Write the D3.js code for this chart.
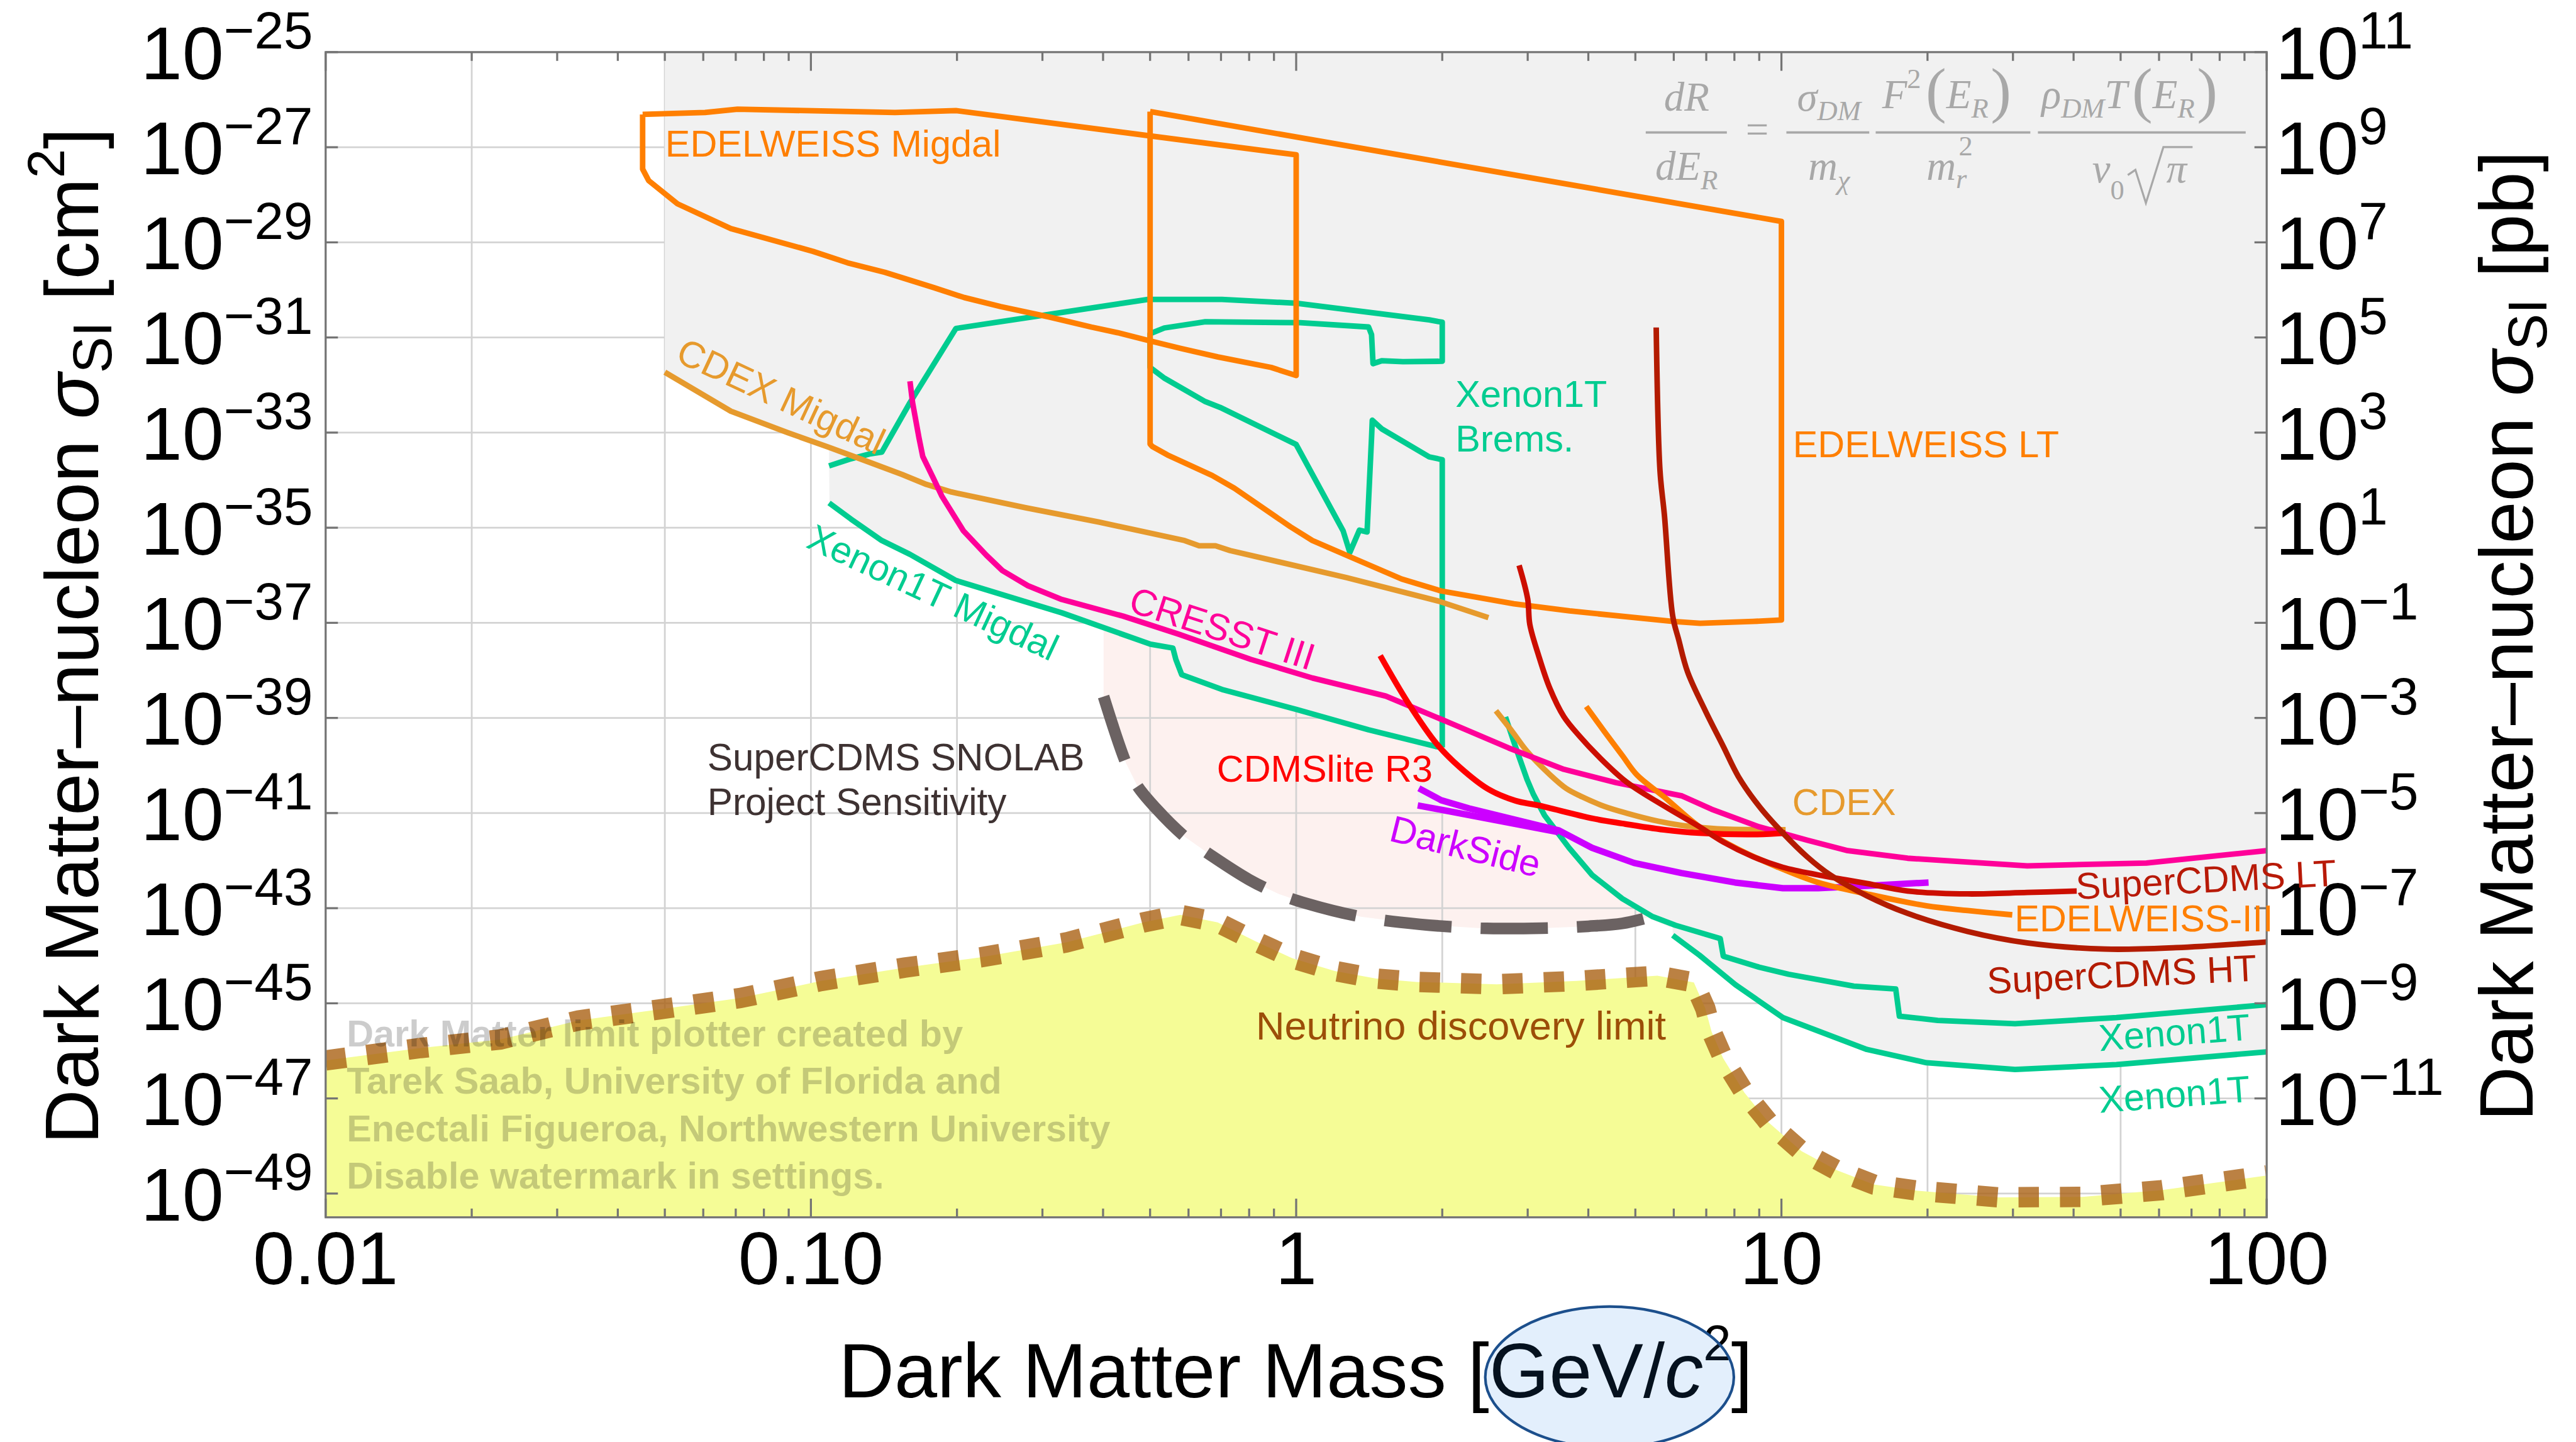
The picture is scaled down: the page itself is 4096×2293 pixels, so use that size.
<!DOCTYPE html>
<html>
<head>
<meta charset="utf-8">
<title>Dark matter – nucleon spin-independent limits</title>
<script src="https://cdn.jsdelivr.net/npm/d3@7"></script>
<style>
  html, body { margin: 0; padding: 0; background: #ffffff; overflow: hidden; }
  svg { display: block; }
</style>
</head>
<body>
<svg id="chart" width="4096" height="2293" viewBox="0 0 4414 2471"></svg>
<script>
// ---------------------------------------------------------------------------
// Data: every curve is a list of [mass in GeV/c^2, log10(sigma_SI / cm^2)]
// ---------------------------------------------------------------------------
const edelweissMigdal = [
  [0.0450,-26.31],[0.0605,-26.27],[0.0706,-26.20],[0.149,-26.27],[0.199,-26.23],
  [1.0,-27.16],[1.0,-31.80],[0.888,-31.63],[0.690,-31.41],[0.578,-31.23],[0.495,-31.06],
  [0.429,-30.90],[0.378,-30.78],[0.310,-30.57],[0.246,-30.35],[0.207,-30.16],[0.179,-29.95],
  [0.142,-29.63],[0.119,-29.43],[0.101,-29.19],[0.0684,-28.71],[0.0531,-28.19],
  [0.0463,-27.70],[0.0450,-27.46]
];
const edelweissLT = [
  [0.5,-26.25],[10,-28.56],[10,-36.94],[8.75,-36.97],[6.8,-37.01],[5.97,-36.97],
  [3.66,-36.75],[2.81,-36.60],[1.99,-36.33],[1.65,-36.08],[1.27,-35.58],[1.08,-35.27],
  [0.973,-34.98],[0.746,-34.17],[0.671,-33.90],[0.543,-33.47],[0.505,-33.29],[0.5,-33.24]
];
const cdexMigdal = [
  [0.050,-31.73],[0.0684,-32.55],[0.0895,-33.00],[0.109,-33.31],[0.127,-33.56],
  [0.154,-33.88],[0.173,-34.09],[0.195,-34.25],[0.277,-34.58],[0.392,-34.88],
  [0.589,-35.27],[0.631,-35.38],[0.682,-35.38],[0.731,-35.48],[1.27,-36.05],
  [1.96,-36.54],[2.49,-36.89]
];
const xenonBrems = [
  [0.109,-33.70],[0.120,-33.56],[0.132,-33.45],[0.140,-33.41],[0.160,-32.37],
  [0.199,-30.81],[0.495,-30.20],[0.703,-30.20],[1.0,-30.28],[1.88,-30.63],[2.0,-30.68],
  [2.0,-31.50],[1.66,-31.51],[1.50,-31.49],[1.44,-31.55],[1.43,-30.94],[1.41,-30.78],
  [1.02,-30.69],[0.65,-30.67],[0.535,-30.80],[0.5,-30.92],[0.5,-31.63],[0.536,-31.86],
  [0.65,-32.35],[0.697,-32.47],[1.0,-33.25],[1.25,-35.07],[1.29,-35.52],[1.35,-35.05],
  [1.40,-35.09],[1.43,-33.11],[1.435,-32.74],[1.50,-32.92],[1.88,-33.51],[2.0,-33.57],
  [2.0,-39.62]
];
const xenonMigdal = [
  [0.109,-34.48],[0.121,-34.82],[0.140,-35.27],[0.160,-35.56],[0.199,-36.11],
  [0.329,-36.79],[0.501,-37.45],[0.557,-37.53],[0.565,-37.77],[0.581,-38.09],
  [0.708,-38.41],[1.0,-38.82],[1.41,-39.25],[1.94,-39.60],[2.0,-39.62]
];
const cresst = [
  [0.160,-31.92],[0.162,-32.37],[0.167,-33.11],[0.170,-33.50],[0.179,-33.97],
  [0.186,-34.33],[0.206,-35.06],[0.230,-35.58],[0.248,-35.90],[0.280,-36.22],
  [0.329,-36.51],[0.440,-36.86],[0.573,-37.24],[0.807,-37.77],[1.08,-38.16],
  [1.53,-38.54],[2.07,-39.10],[2.74,-39.63],[3.56,-40.08],[4.56,-40.36],[6.24,-40.64],
  [7.18,-40.92],[9.0,-41.29],[11.3,-41.57],[13.7,-41.79],[18.2,-41.95],[32.1,-42.11],
  [56.5,-42.05],[100,-41.79]
];
const cdmslite = [
  [1.49,-37.69],[1.70,-38.68],[1.95,-39.55],[2.17,-40.03],[2.49,-40.50],[2.83,-40.74],
  [3.16,-40.84],[4.07,-41.11],[4.70,-41.22],[5.72,-41.35],[6.78,-41.42],[8.75,-41.45],
  [10.2,-41.42]
];
const darksideUpper = [
  [1.79,-40.48],[1.99,-40.73],[2.27,-40.90],[3.47,-41.36],[4.07,-41.73],[4.97,-42.05],
  [6.22,-42.26],[8.02,-42.46],[10.07,-42.58],[11.9,-42.58],[15.0,-42.53],[20.1,-42.46]
];
const darksideLower = [[1.78,-40.84],[1.99,-40.93],[3.47,-41.40]];
const cdex = [
  [2.58,-38.85],[2.79,-39.29],[2.99,-39.70],[3.34,-40.20],[3.60,-40.48],[3.85,-40.64],
  [4.32,-40.86],[4.83,-41.01],[5.57,-41.17],[6.24,-41.26],[7.38,-41.33],[10.2,-41.35]
];
const edelweissIII = [
  [3.96,-38.76],[4.32,-39.29],[4.70,-39.79],[5.04,-40.20],[5.73,-40.66],[6.78,-41.29],
  [8.04,-41.73],[9.79,-42.13],[11.9,-42.46],[15.0,-42.70],[19.9,-42.95],[24.2,-43.05],
  [29.9,-43.14]
];
const supercdmsLT = [
  [2.88,-35.79],[3.00,-36.50],[3.03,-37.03],[3.16,-37.69],[3.33,-38.37],[3.56,-38.97],
  [3.85,-39.40],[4.19,-39.80],[4.80,-40.35],[5.73,-40.85],[6.78,-41.29],[7.59,-41.61],
  [8.75,-41.92],[10.07,-42.14],[11.9,-42.30],[15.0,-42.48],[18.2,-42.64],[24.2,-42.70],
  [32.1,-42.67],[40.6,-42.64]
];
const supercdmsHT = [
  [5.52,-30.79],[5.62,-33.80],[5.74,-34.74],[5.97,-36.86],[6.14,-37.35],[6.41,-38.04],
  [6.97,-38.85],[7.59,-39.60],[8.15,-40.23],[9.0,-40.86],[10.07,-41.42],[11.3,-41.92],
  [12.6,-42.30],[15.0,-42.74],[18.2,-43.11],[24.2,-43.49],[32.1,-43.73],[46.4,-43.86],
  [65.0,-43.83],[100,-43.71]
];
const xenonUpper = [
  [2.70,-38.98],[2.83,-39.60],[2.99,-40.29],[3.08,-40.60],[3.25,-41.05],[3.65,-41.73],
  [4.07,-42.30],[4.70,-42.80],[5.41,-43.17],[6.05,-43.36],[7.48,-43.64],[7.59,-44.01],
  [9.0,-44.24],[10.35,-44.39],[14.1,-44.64],[17.2,-44.70],[17.5,-45.27],[21.0,-45.36],
  [30.3,-45.43],[49.0,-45.30],[100,-45.03]
];
const xenonLower = [
  [5.97,-43.57],[6.78,-43.99],[8.04,-44.61],[10.07,-45.30],[15.0,-45.97],[19.9,-46.25],
  [30.3,-46.39],[49.0,-46.29],[100,-46.02]
];
const snolabProjection = [
  [0.401,-38.55],[0.446,-39.95],[0.470,-40.42],[0.514,-40.90],[0.59,-41.50],[0.67,-41.90],
  [0.80,-42.40],[0.92,-42.70],[1.05,-42.90],[1.36,-43.18],[1.8,-43.34],[2.4,-43.42],
  [3.2,-43.42],[4.0,-43.38],[4.7,-43.32],[5.3,-43.20]
];
const snolabRegionEdge = [[5.9,-43.40],[5.9,-25.0]];
const neutrinoLimit = [
  [0.0100,-46.20],[0.0157,-45.94],[0.0229,-45.76],[0.0332,-45.36],[0.0486,-45.13],
  [0.0714,-44.89],[0.105,-44.53],[0.156,-44.25],[0.225,-44.03],[0.336,-43.72],
  [0.484,-43.30],[0.577,-43.14],[0.689,-43.30],[0.822,-43.69],[0.98,-44.05],[1.20,-44.32],
  [1.46,-44.48],[1.77,-44.55],[2.59,-44.60],[3.79,-44.53],[5.55,-44.42],[6.60,-44.56],
  [6.97,-45.11],[7.18,-45.60],[7.58,-46.15],[8.39,-46.88],[9.42,-47.51],[11.0,-48.11],
  [13.0,-48.51],[15.5,-48.81],[19.1,-48.94],[28.0,-49.08],[41.7,-49.07],[60.7,-48.93],
  [90.8,-48.68],[100,-48.62]
];

// Axes
const massTicks = [0.01, 0.1, 1, 10, 100];
const massTickLabels = ["0.01", "0.10", "1", "10", "100"];
const massGrid = [0.02, 0.05, 0.1, 0.2, 0.5, 1, 2, 5, 10, 20, 50];
const sigmaExponents = [-25,-27,-29,-31,-33,-35,-37,-39,-41,-43,-45,-47,-49];
const pbExponents = [11, 9, 7, 5, 3, 1, -1, -3, -5, -7, -9, -11];   // 1 pb = 1e-36 cm^2

// ---------------------------------------------------------------------------
// Scales and helpers
// ---------------------------------------------------------------------------
const W = 4414, H = 2471;
const plot = { left: 558, right: 3884, top: 89.3, bottom: 2086 };
const x = d3.scaleLog().domain([0.01, 100]).range([plot.left, plot.right]);
const y = d3.scaleLog().domain([Math.pow(10, -49.5), 1e-25]).range([plot.bottom, plot.top]);
const Y = e => y(Math.pow(10, e));

const sans = "'Liberation Sans', Arial, Helvetica, sans-serif";
const serif = "'Liberation Serif', 'Times New Roman', Times, serif";
const svg = d3.select('#chart').attr('font-family', sans);

const lin = d3.line().x(d => x(d[0])).y(d => Y(d[1]));
const smooth = d3.line().x(d => x(d[0])).y(d => Y(d[1])).curve(d3.curveCatmullRom.alpha(0.5));

// log-log interpolation of a curve that is single valued in mass
function valueAt(curve, m) {
  const lm = Math.log10(m), n = curve.length;
  const a = Math.log10(curve[0][0]), b = Math.log10(curve[n - 1][0]);
  if (lm < a - 1e-9 || lm > b + 1e-9) return null;
  for (let i = 1; i < n; i++) {
    const l0 = Math.log10(curve[i - 1][0]), l1 = Math.log10(curve[i][0]);
    if (lm <= l1 + 1e-12) {
      if (l1 === l0) return Math.min(curve[i - 1][1], curve[i][1]);
      const t = (lm - l0) / (l1 - l0);
      return curve[i - 1][1] + t * (curve[i][1] - curve[i - 1][1]);
    }
  }
  return curve[n - 1][1];
}

svg.append('rect').attr('width', W).attr('height', H).attr('fill', '#ffffff');

const defs = svg.append('defs');
defs.append('clipPath').attr('id', 'plotClip').append('rect')
  .attr('x', plot.left).attr('y', plot.top)
  .attr('width', plot.right - plot.left).attr('height', plot.bottom - plot.top);
const body = svg.append('g').attr('clip-path', 'url(#plotClip)');

// ---- SuperCDMS SNOLAB projected region (pale pink) ----
body.append('path')
  .datum([[snolabProjection[0][0], -25], ...snolabProjection, ...snolabRegionEdge])
  .attr('d', lin).attr('fill', '#fdf1ef').attr('stroke', 'none');

// ---- grid ----
const grid = body.append('g').attr('stroke', '#d3d3d3').attr('stroke-width', 3);
massGrid.forEach(m => grid.append('line')
  .attr('x1', x(m)).attr('x2', x(m)).attr('y1', plot.top).attr('y2', plot.bottom));
sigmaExponents.forEach(e => grid.append('line')
  .attr('x1', plot.left).attr('x2', plot.right).attr('y1', Y(e)).attr('y2', Y(e)));

// ---- excluded region: everything above the lowest limit ----
const envelopeCurves = [cdexMigdal, xenonMigdal, cresst, cdmslite, darksideUpper, darksideLower,
  cdex, edelweissIII, supercdmsLT, supercdmsHT, xenonUpper, xenonLower];
const envelope = [];
const lStart = Math.log10(cdexMigdal[0][0]), lEnd = 2, N = 4000;
for (let i = 0; i <= N; i++) {
  const m = Math.pow(10, lStart + (lEnd - lStart) * i / N);
  let best = null;
  envelopeCurves.forEach(c => { const v = valueAt(c, m); if (v !== null && (best === null || v < best)) best = v; });
  if (best !== null) envelope.push([m, best]);
}
body.append('path')
  .datum([[cdexMigdal[0][0], -25], ...envelope, [100, -25]])
  .attr('d', lin).attr('fill', '#f1f1f1').attr('stroke', 'none');

// ---- neutrino region (yellow) ----
body.append('path')
  .datum([[0.01, -49.5], ...neutrinoLimit, [100, -49.5]])
  .attr('d', lin).attr('fill', '#f5fc96').attr('stroke', 'none');

// ---- experimental limits ----
const curves = [
  { data: xenonBrems, color: '#00cc90', gen: lin },
  { data: xenonMigdal, color: '#00cc90', gen: lin },
  { data: xenonUpper, color: '#00cc90', gen: lin },
  { data: xenonLower, color: '#00cc90', gen: lin },
  { data: cdexMigdal, color: '#e69a2d', gen: lin },
  { data: cdex, color: '#e69a2d', gen: smooth },
  { data: cresst, color: '#ff0099', gen: lin },
  { data: darksideLower, color: '#cc00ff', gen: lin, width: 11 },
  { data: darksideUpper, color: '#cc00ff', gen: lin, width: 11 },
  { data: edelweissMigdal, color: '#ff7f00', gen: lin, closed: true },
  { data: edelweissLT, color: '#ff7f00', gen: lin, closed: true },
  { data: edelweissIII, color: '#ff7f00', gen: smooth },
  { data: cdmslite, color: '#ff0000', gen: smooth, width: 10 },
  { data: supercdmsLT, color: '#cc0e00', gen: smooth },
  { data: supercdmsHT, color: '#b31b00', gen: smooth }
];
curves.forEach(c => {
  const pts = c.closed ? [...c.data, c.data[0]] : c.data;
  body.append('path').datum(pts).attr('d', c.gen)
    .attr('fill', 'none').attr('stroke', c.color).attr('stroke-width', c.width || 9.5)
    .attr('stroke-linejoin', 'round');
});

// ---- SuperCDMS SNOLAB projection (dashed) ----
body.append('path').datum(snolabProjection).attr('d', smooth)
  .attr('fill', 'none').attr('stroke', '#6b6262').attr('stroke-width', 20)
  .attr('stroke-dasharray', '115,50');

// ---- neutrino discovery limit (dotted) ----
body.append('path').datum(neutrinoLimit).attr('d', lin)
  .attr('fill', 'none').attr('stroke', '#aa6214').attr('stroke-opacity', 0.8)
  .attr('stroke-width', 35).attr('stroke-dasharray', '35,36');

// ---------------------------------------------------------------------------
// Frame and ticks
// ---------------------------------------------------------------------------
const frame = svg.append('g').attr('stroke', '#747474').attr('stroke-width', 3.5);
frame.append('rect').attr('x', plot.left).attr('y', plot.top)
  .attr('width', plot.right - plot.left).attr('height', plot.bottom - plot.top).attr('fill', 'none');
const minorMass = [];
[0.01, 0.1, 1, 10].forEach(d => { for (let k = 2; k <= 9; k++) minorMass.push(k * d); });
minorMass.forEach(m => {
  frame.append('line').attr('x1', x(m)).attr('x2', x(m)).attr('y1', plot.bottom).attr('y2', plot.bottom - 15);
  frame.append('line').attr('x1', x(m)).attr('x2', x(m)).attr('y1', plot.top).attr('y2', plot.top + 15);
});
massTicks.forEach(m => {
  frame.append('line').attr('x1', x(m)).attr('x2', x(m)).attr('y1', plot.bottom).attr('y2', plot.bottom - 32);
  frame.append('line').attr('x1', x(m)).attr('x2', x(m)).attr('y1', plot.top).attr('y2', plot.top + 32);
});
sigmaExponents.forEach(e => {
  frame.append('line').attr('x1', plot.left).attr('x2', plot.left + 21).attr('y1', Y(e)).attr('y2', Y(e));
  if (e >= -47) frame.append('line').attr('x1', plot.right).attr('x2', plot.right - 21).attr('y1', Y(e)).attr('y2', Y(e));
});

// ---- tick labels ----
const minus = '\u2212';
function powerLabel(px, py, exp, anchor) {
  const t = svg.append('text').attr('x', px).attr('y', py).attr('text-anchor', anchor)
    .attr('font-size', 128).attr('fill', '#000');
  t.append('tspan').text('10');
  t.append('tspan').attr('font-size', 90).attr('dy', -52).text(exp < 0 ? minus + (-exp) : String(exp));
}
sigmaExponents.forEach(e => powerLabel(536, Y(e) + 46, e, 'end'));
pbExponents.forEach(p => powerLabel(3899, Y(p - 36) + 46, p, 'start'));
massTicks.forEach((m, i) => svg.append('text').attr('x', x(m)).attr('y', 2200)
  .attr('text-anchor', 'middle').attr('font-size', 128).text(massTickLabels[i]));

// ---- axis titles ----
function sigmaTitle(px, unit) {
  const t = svg.append('text').attr('transform', `translate(${px},1090) rotate(-90)`)
    .attr('text-anchor', 'middle').attr('font-size', 130);
  t.append('tspan').text('Dark Matter\u2013nucleon ');
  t.append('tspan').attr('font-style', 'italic').text('\u03c3');
  t.append('tspan').attr('font-size', 94).attr('dy', 23).text('SI');
  t.append('tspan').attr('dy', -23).text(' [' + unit);
  if (unit === 'cm') {
    t.append('tspan').attr('font-size', 90).attr('dy', -58).text('2');
    t.append('tspan').attr('dy', 58).text(']');
  } else {
    t.append('tspan').text(']');
  }
}
sigmaTitle(168, 'cm');
sigmaTitle(4340, 'pb');

const xt = svg.append('text').attr('x', 2220).attr('y', 2395).attr('text-anchor', 'middle').attr('font-size', 132);
xt.append('tspan').text('Dark Matter Mass [GeV/');
xt.append('tspan').attr('font-style', 'italic').text('c');
xt.append('tspan').attr('font-size', 86).attr('dy', -64).text('2');
xt.append('tspan').attr('dy', 64).text(']');
svg.append('ellipse').attr('cx', 2758).attr('cy', 2360).attr('rx', 213).attr('ry', 121)
  .attr('fill', 'rgb(40,130,230)').attr('fill-opacity', 0.13)
  .attr('stroke', '#1c4f8c').attr('stroke-width', 4.5);

// ---------------------------------------------------------------------------
// Curve labels
// ---------------------------------------------------------------------------
const labels = [
  { text: 'EDELWEISS Migdal', x: 1140, y: 268, color: '#ff7f00' },
  { text: 'CDEX Migdal', x: 1155, y: 618, rot: 25, color: '#e69a2d' },
  { text: 'Xenon1T Migdal', x: 1379, y: 937, rot: 25, color: '#00cc90' },
  { text: 'CRESST III', x: 1931, y: 1047, rot: 18, color: '#ff0099' },
  { text: 'Xenon1T', x: 2494, y: 697, color: '#00cc90' },
  { text: 'Brems.', x: 2494, y: 774, color: '#00cc90' },
  { text: 'EDELWEISS LT', x: 3072, y: 783, color: '#ff7f00' },
  { text: 'CDMSlite R3', x: 2085, y: 1340, color: '#ff0000' },
  { text: 'DarkSide', x: 2378, y: 1440, rot: 14, color: '#cc00ff' },
  { text: 'CDEX', x: 3071, y: 1397, color: '#e69a2d' },
  { text: 'SuperCDMS LT', x: 3558, y: 1541, rot: -3, color: '#b81a08' },
  { text: 'EDELWEISS-III', x: 3452, y: 1596, color: '#ff7f00' },
  { text: 'SuperCDMS HT', x: 3406, y: 1703, rot: -2.8, color: '#b31b00' },
  { text: 'Xenon1T', x: 3598, y: 1801, rot: -4.3, color: '#00cc90' },
  { text: 'Xenon1T', x: 3598, y: 1907, rot: -4.3, color: '#00cc90' },
  { text: 'Neutrino discovery limit', x: 2152, y: 1781, color: '#9c4e08', size: 68 },
  { text: 'SuperCDMS SNOLAB', x: 1212, y: 1320, color: '#3e3232', size: 65 },
  { text: 'Project Sensitivity', x: 1212, y: 1397, color: '#3e3232', size: 65 }
];
labels.forEach(l => {
  svg.append('text').attr('transform', `translate(${l.x},${l.y}) rotate(${l.rot || 0})`)
    .attr('font-size', l.size || 64).attr('fill', l.color).text(l.text);
});

// ---- credit text ----
const credit = ['Dark Matter limit plotter created by', 'Tarek Saab, University of Florida and',
  'Enectali Figueroa, Northwestern University', 'Disable watermark in settings.'];
credit.forEach((s, i) => svg.append('text').attr('x', 594).attr('y', 1793 + i * 81.3)
  .attr('font-size', 64).attr('font-weight', 'bold').attr('fill', '#000').attr('fill-opacity', 0.2).text(s));

// ---------------------------------------------------------------------------
// Differential rate formula
// ---------------------------------------------------------------------------
const fg = svg.append('g').attr('fill', '#a8a8a8').attr('font-family', serif)
  .attr('font-style', 'italic').attr('font-size', 70);
const bars = [[2820, 2959], [3061, 3203], [3214, 3479], [3492, 3848]];
bars.forEach(b => fg.append('line').attr('x1', b[0]).attr('x2', b[1]).attr('y1', 227).attr('y2', 227)
  .attr('stroke', '#a8a8a8').attr('stroke-width', 4));

function sub(t, s, dy) { t.append('tspan').attr('font-size', 48).attr('dy', dy).text(s); }

let t = fg.append('text').attr('x', 2890).attr('y', 190).attr('text-anchor', 'middle').text('dR');
t = fg.append('text').attr('x', 2890).attr('y', 308).attr('text-anchor', 'middle');
t.append('tspan').text('dE'); sub(t, 'R', 16);
fg.append('text').attr('x', 3011).attr('y', 246).attr('text-anchor', 'middle').attr('font-style', 'normal').text('=');

t = fg.append('text').attr('x', 3134).attr('y', 190).attr('text-anchor', 'middle');
t.append('tspan').text('\u03c3'); sub(t, 'DM', 16);
t = fg.append('text').attr('x', 3134).attr('y', 308).attr('text-anchor', 'middle');
t.append('tspan').text('m'); sub(t, '\u03c7', 16);

t = fg.append('text').attr('x', 3225).attr('y', 185);
t.append('tspan').text('F');
t.append('tspan').attr('font-size', 48).attr('font-style', 'normal').attr('dy', -34).text('2');
t.append('tspan').attr('font-size', 106).attr('font-style', 'normal').attr('dx', 8).attr('dy', 39).text('(');
t.append('tspan').attr('dy', -5).text('E');
sub(t, 'R', 16);
t.append('tspan').attr('font-size', 106).attr('font-style', 'normal').attr('dx', 4).attr('dy', -11).text(')');
t = fg.append('text').attr('x', 3301).attr('y', 308);
t.append('tspan').text('m');
sub(t, 'r', 14);
t.append('tspan').attr('font-size', 48).attr('font-style', 'normal').attr('dx', -14).attr('dy', -56).text('2');

t = fg.append('text').attr('x', 3498).attr('y', 185);
t.append('tspan').text('\u03c1');
sub(t, 'DM', 16);
t.append('tspan').attr('dy', -16).text('T');
t.append('tspan').attr('font-size', 106).attr('font-style', 'normal').attr('dx', 8).attr('dy', 5).text('(');
t.append('tspan').attr('dy', -5).text('E');
sub(t, 'R', 16);
t.append('tspan').attr('font-size', 106).attr('font-style', 'normal').attr('dx', 4).attr('dy', -11).text(')');
t = fg.append('text').attr('x', 3585).attr('y', 312);
t.append('tspan').text('v');
t.append('tspan').attr('font-size', 48).attr('font-style', 'normal').attr('dy', 30).text('0');
fg.append('path').attr('d', 'M3646,300 L3659,291 L3677,348 L3707,252 L3757,252')
  .attr('fill', 'none').attr('stroke', '#a8a8a8').attr('stroke-width', 3.5);
fg.append('text').attr('x', 3712).attr('y', 312).text('\u03c0');
</script>
</body>
</html>
